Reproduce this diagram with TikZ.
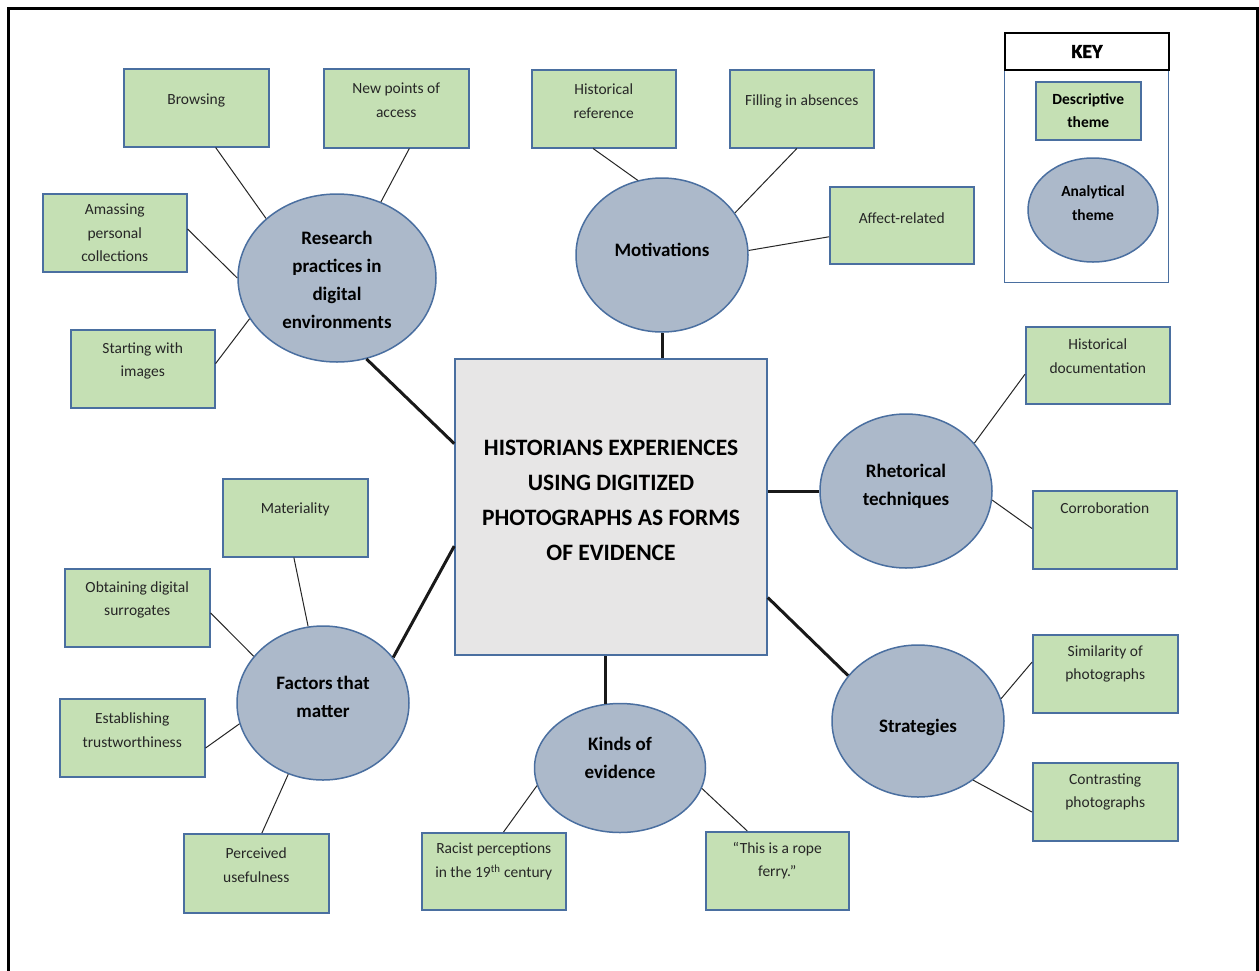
\documentclass[tikz,border=0pt]{standalone}
\usepackage{fontspec}
\setmainfont{Carlito}
\usetikzlibrary{shapes.geometric}
\definecolor{gfill}{HTML}{C5E0B4}
\definecolor{bline}{HTML}{4A6FA0}
\definecolor{efill}{HTML}{ACB9CA}
\definecolor{cfill}{HTML}{E7E6E6}
\tikzset{
 gbox/.style={draw=bline, line width=1.5pt, fill=gfill, rectangle, anchor=north west, inner sep=0},
 gtext/.style={align=center, font=\fontsize{15.5}{23.5}\selectfont, text=black!85, inner sep=0},
 theme/.style={draw=bline, line width=1.5pt, fill=efill, ellipse, inner sep=0},
 ttext/.style={align=center, font=\fontsize{19}{28}\selectfont\bfseries, inner sep=0},
 conn/.style={line width=1pt, black!85},
 mainconn/.style={line width=3pt, black!90},
}
\newcommand\gb[7]{%
 \node[gbox, minimum width={#4pt-#2pt}, minimum height={#5pt-#3pt}] (#1) at (#2,#3) {};
 \node[gtext] (#1t) at ([yshift=-#7pt]#1.north) {#6};}
\newcommand\thm[7]{%
 \node[theme, minimum width=#4pt, minimum height=#5pt] (#1) at (#2,#3) {};
 \node[ttext] (#1t) at ([yshift=#7pt]#1.center) {#6};}
\begin{document}
\begin{tikzpicture}[x=1pt,y=-1pt]
\useasboundingbox (0,0) rectangle (1259,970);
\clip (0,0) rectangle (1259,970);
\fill[white] (0,0) rectangle (1259,970);
\draw[line width=3pt] (8,980) -- (8,8) -- (1257,8) -- (1257,980);

% centre
\node[draw=bline, line width=1.5pt, fill=cfill, minimum width=312pt, minimum height=296pt, inner sep=0] (ctr) at (611,507) {};
\node[align=center, font=\fontsize{23.5}{35}\selectfont\bfseries, inner sep=0] (ctrt) at (611,500) {HISTORIANS EXPERIENCES\\USING DIGITIZED\\PHOTOGRAPHS AS FORMS\\OF EVIDENCE};

% themes
\thm{rese}{337}{278}{198}{168}{Research\\practices in\\digital\\environments}{-2}
\thm{moti}{662}{255}{172}{154}{Motivations}{5}
\thm{rhet}{906}{491}{172}{154}{Rhetorical\\techniques}{5}
\thm{stra}{918}{721}{172}{152}{Strategies}{-6}
\thm{fact}{323}{703}{172}{154}{Factors that\\matter}{6}
\thm{kind}{620}{768}{171}{129}{Kinds of\\evidence}{10}

% descriptive boxes
\gb{brow}{123}{68}{268}{146}{Browsing}{32}
\gb{newp}{323}{68}{468}{147}{New points of\\access}{32}
\gb{amas}{42}{193}{186}{271}{Amassing\\personal\\collections}{40}
\gb{star}{70}{329}{214}{407}{Starting with\\images}{32}
\gb{href}{531}{69}{675}{147}{Historical\\reference}{32}
\gb{filb}{729}{69}{873}{147}{Filling in absences}{32}
\gb{affe}{829}{186}{973}{263}{Affect-related}{32}
\gb{hdoc}{1025}{326}{1169}{403}{Historical\\documentation}{30}
\gb{corr}{1032}{490}{1176}{568}{Corroboration}{18}
\gb{simi}{1032}{634}{1177}{712}{Similarity of\\photographs}{30}
\gb{cont}{1032}{762}{1177}{840}{Contrasting\\photographs}{30}
\gb{mate}{222}{478}{367}{556}{Materiality}{31}
\gb{obta}{64}{568}{209}{646}{Obtaining digital\\surrogates}{32}
\gb{esta}{59}{698}{204}{776}{Establishing\\trustworthiness}{32}
\gb{perc}{183}{833}{328}{912}{Perceived\\usefulness}{32}
\gb{raci}{421}{832}{565}{909}{Racist perceptions\\in the 19\textsuperscript{th} century}{29.5}
\gb{rope}{705}{831}{848}{909}{“This is a rope\\ferry.”}{29.5}

% connectors
\draw[conn] (brow.-64) -- (rese.140.6);
\draw[conn] (newp.-72.4) -- (rese.60);
\draw[conn] (amas.3.2) -- (rese.180.6);
\draw[conn] (star.4) -- (rese.205.8);
\draw[mainconn] (rese.-70.7) -- (ctr.158.8);
\draw[conn] (href.-105.8) -- (moti.108.2);
\draw[conn] (filb.-97.3) -- (moti.30);
\draw[conn] (affe.189.8) -- (moti.3.3);
\draw[mainconn] (moti.south) -- (moti.south |- ctr.north);
\draw[conn] (hdoc.187.5) -- (rhet.35.2);
\draw[conn] (corr.179.2) -- (rhet.-6);
\draw[mainconn] (rhet.west) -- (rhet.west -| ctr.east);
\draw[conn] (simi.171.4) -- (stra.15.3);
\draw[conn] (cont.188.6) -- (stra.-47.9);
\draw[mainconn] (ctr.-30) -- (stra.147.6);
\draw[conn] (mate.-92.2) -- (fact.101.3);
\draw[conn] (obta.-4.7) -- (fact.146.1);
\draw[conn] (esta.-8.6) -- (fact.194.7);
\draw[conn] (perc.82.1) -- (fact.244.7);
\draw[mainconn] (ctr.194.7) -- (fact.33.3);
\draw[mainconn] (kind.103.4) -- (kind.103.4 |- ctr.south);
\draw[conn] (raci.76.8) -- (kind.192.9);
\draw[conn] (rope.127.1) -- (kind.-14.8);

% key
\node[draw=bline, line width=1.2pt, minimum width=164pt, minimum height=250pt, anchor=north west, inner sep=0] (keyb) at (1004,32) {};
\node[draw=black, line width=2pt, fill=white, minimum width=164pt, minimum height=37pt, anchor=north west, inner sep=0] (keyh) at (1004,32) {};
\node[font=\fontsize{20}{22}\selectfont\bfseries\addfontfeatures{FakeBold=2}, inner sep=0] (keyt) at (keyh.center) {KEY};
\node[gbox, minimum width=105pt, minimum height=58pt] (keyd) at (1035,81) {};
\node[align=center, font=\fontsize{15.5}{23.5}\selectfont\bfseries, inner sep=0] (keydt) at (keyd.center) {Descriptive\\theme};
\node[theme, minimum width=130pt, minimum height=104pt] (keya) at (1093,210) {};
\node[align=center, font=\fontsize{15.5}{23.5}\selectfont\bfseries, inner sep=0] (keyat) at ([yshift=7pt]keya.center) {Analytical\\theme};
\end{tikzpicture}
\end{document}
